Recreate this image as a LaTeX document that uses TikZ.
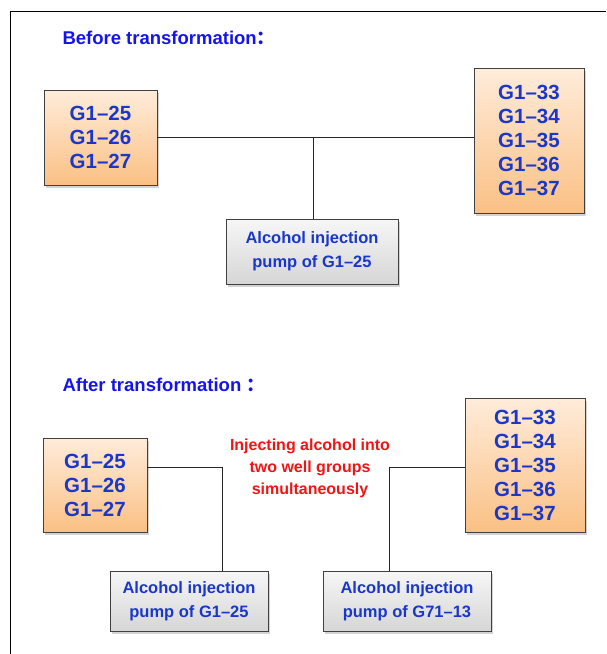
\documentclass[tikz,border=0pt]{standalone}
\usepackage{fontspec}
\setmainfont{Liberation Sans}
\newfontfamily\cjk{Noto Sans CJK SC}
\usetikzlibrary{positioning, shadows}
\definecolor{wellTop}{RGB}{255,236,218}
\definecolor{wellBot}{RGB}{250,192,132}
\definecolor{pumpTop}{RGB}{246,246,246}
\definecolor{pumpBot}{RGB}{214,214,214}
\definecolor{txtBlue}{RGB}{ 25, 55,200}
\definecolor{headBlue}{RGB}{ 20, 20,240}
\definecolor{noteRed}{RGB}{240, 20, 20}
\tikzset{
    wellbox/.style={
        draw=black!75, line width=0.8pt, top color=wellTop, bottom color=wellBot,
        align=center, text=txtBlue, font=\fontsize{20.5}{24}\selectfont\bfseries,
        drop shadow={shadow xshift=2pt, shadow yshift=-2.5pt, opacity=0.35},
        inner sep=0pt
    },
    pumpbox/.style={
        draw=black!75, line width=0.8pt, top color=pumpTop, bottom color=pumpBot,
        align=center, text=txtBlue, font=\fontsize{16.5}{24}\selectfont\bfseries,
        drop shadow={shadow xshift=2pt, shadow yshift=-2.5pt, opacity=0.35},
        inner sep=0pt
    },
    heading/.style={anchor=west, text=headBlue, font=\fontsize{18.5}{20}\selectfont\bfseries},
    note/.style={align=center, text=noteRed, font=\fontsize{16}{22}\selectfont\bfseries},
    pipe/.style={line width=0.8pt, draw=black!85}
}
\begin{document}
\begin{tikzpicture}[x=1pt, y=-1pt]
      \useasboundingbox (0,0) rectangle (606,654);
      \draw[line width=0.9pt] (606,11) -- (10,11) -- (10,654);
      % before
      \node[heading] (H1) at (59,38) {Before transformation{\cjk ：}};
      \node[wellbox, minimum width=113pt, minimum height=95pt] (A1) at (100.5,137.5)
            {G1--25\\G1--26\\G1--27};
      \node[wellbox, minimum width=110pt, minimum height=145pt] (B1) at (529,140.5)
            {G1--33\\G1--34\\G1--35\\G1--36\\G1--37};
      \node[pumpbox, minimum width=172pt, minimum height=65pt] (P1) at (312,251.5)
            {Alcohol injection\\pump of G1--25};
      \coordinate (j1) at (313,137);
      \draw[pipe] (A1.east |- j1) -- (B1.west |- j1);
      \draw[pipe] (j1) -- (j1 |- P1.north);
      % after
      \node[heading] (H2) at (59,385) {After transformation {\cjk ：}};
      \node[wellbox, minimum width=104pt, minimum height=94pt] (A2) at (95,485)
            {G1--25\\G1--26\\G1--27};
      \node[wellbox, minimum width=120pt, minimum height=134pt] (B2) at (525,465)
            {G1--33\\G1--34\\G1--35\\G1--36\\G1--37};
      \node[note] (N) at (310,468) {Injecting alcohol into\\two well groups\\simultaneously};
      \node[pumpbox, minimum width=158pt, minimum height=60pt] (P2) at (189,601)
            {Alcohol injection\\pump of G1--25};
      \node[pumpbox, minimum width=168pt, minimum height=60pt] (P3) at (407,601)
            {Alcohol injection\\pump of G71--13};
      \coordinate (j2) at (222,467);
      \coordinate (j3) at (389,467);
      \draw[pipe] (A2.east |- j2) -- (j2) -- (j2 |- P2.north);
      \draw[pipe] (B2.west |- j3) -- (j3) -- (j3 |- P3.north);
    \end{tikzpicture}
\end{document}
